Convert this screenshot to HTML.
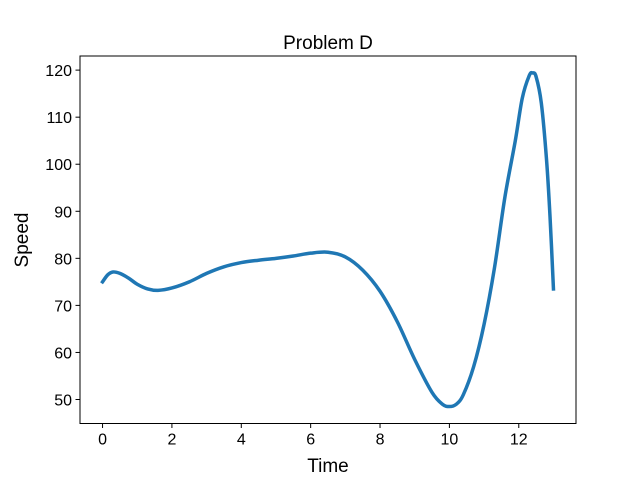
<!DOCTYPE html>
<html><head><meta charset="utf-8"><style>
body{margin:0;background:#fff;width:640px;height:476px;overflow:hidden}
text{font-family:"Liberation Sans","DejaVu Sans",sans-serif;fill:#000}
</style></head><body>
<svg id="chart" width="640" height="476" xmlns="http://www.w3.org/2000/svg"></svg>
<script>
const times=[0,0.15,0.3,0.5,0.75,1,1.3,1.6,2,2.5,3,3.5,4,4.5,5,5.5,6,6.5,7,7.5,8,8.5,9,9.5,9.8,10,10.2,10.4,10.7,11,11.3,11.6,11.9,12.1,12.3,12.4,12.5,12.65,12.8,12.9,13];
const speeds=[75,76.5,77.1,76.8,75.8,74.5,73.5,73.2,73.7,75,76.8,78.2,79.1,79.6,80,80.5,81.1,81.3,80.3,77.5,73,66.5,58.5,51.5,49,48.5,49,51,57,66,78,93,105,114,118.8,119.4,118.6,113,101,89,73.5];
const xTicks=[0,2,4,6,8,10,12];
const yTicks=[50,60,70,80,90,100,110,120];
const L=80,R=576,T=56,B=423.5,x0=-0.65,x1=13.65,y0=44.9,y1=123;
const sx=v=>L+(v-x0)/(x1-x0)*(R-L), sy=v=>B-(v-y0)/(y1-y0)*(B-T);
const svg=document.getElementById('chart');const NS='http://www.w3.org/2000/svg';
function mk(t,a,p){const e=document.createElementNS(NS,t);for(const k in a)e.setAttribute(k,a[k]);(p||svg).appendChild(e);return e;}
const P=times.map((t,i)=>[sx(t),sy(speeds[i])]);
let d='M'+P[0][0]+','+P[0][1];
for(let i=0;i<P.length-1;i++){const p0=P[i-1]||P[i],p1=P[i],p2=P[i+1],p3=P[i+2]||p2;
d+=' C'+(p1[0]+(p2[0]-p0[0])/6)+','+(p1[1]+(p2[1]-p0[1])/6)+' '+(p2[0]-(p3[0]-p1[0])/6)+','+(p2[1]-(p3[1]-p1[1])/6)+' '+p2[0]+','+p2[1];}
const line=mk('path',{d:d,fill:'none',stroke:'#1f77b4','stroke-width':3.5,'stroke-linejoin':'round','stroke-linecap':'square'});


const frame=mk('rect',{x:L,y:T,width:R-L,height:B-T,fill:'none',stroke:'#000','stroke-width':1});


xTicks.forEach(v=>{const x=sx(v);mk('line',{x1:x,x2:x,y1:B,y2:B+4.5,stroke:'#000'});
const t=mk('text',{x:x,y:B+21,'text-anchor':'middle','font-size':16});t.textContent=v;

});
yTicks.forEach(v=>{const y=sy(v);mk('line',{x1:L-4.5,x2:L,y1:y,y2:y,stroke:'#000'});
const t=mk('text',{x:L-8,y:y+6,'text-anchor':'end','font-size':16});t.textContent=v;

});
let t=mk('text',{x:328,y:49,'text-anchor':'middle','font-size':19});t.textContent='Problem D';


t=mk('text',{x:328,y:472,'text-anchor':'middle','font-size':19});t.textContent='Time';


t=mk('text',{x:28,y:240,'text-anchor':'middle','font-size':19,transform:'rotate(-90 28 240)'});t.textContent='Speed';


</script>
</body></html>
